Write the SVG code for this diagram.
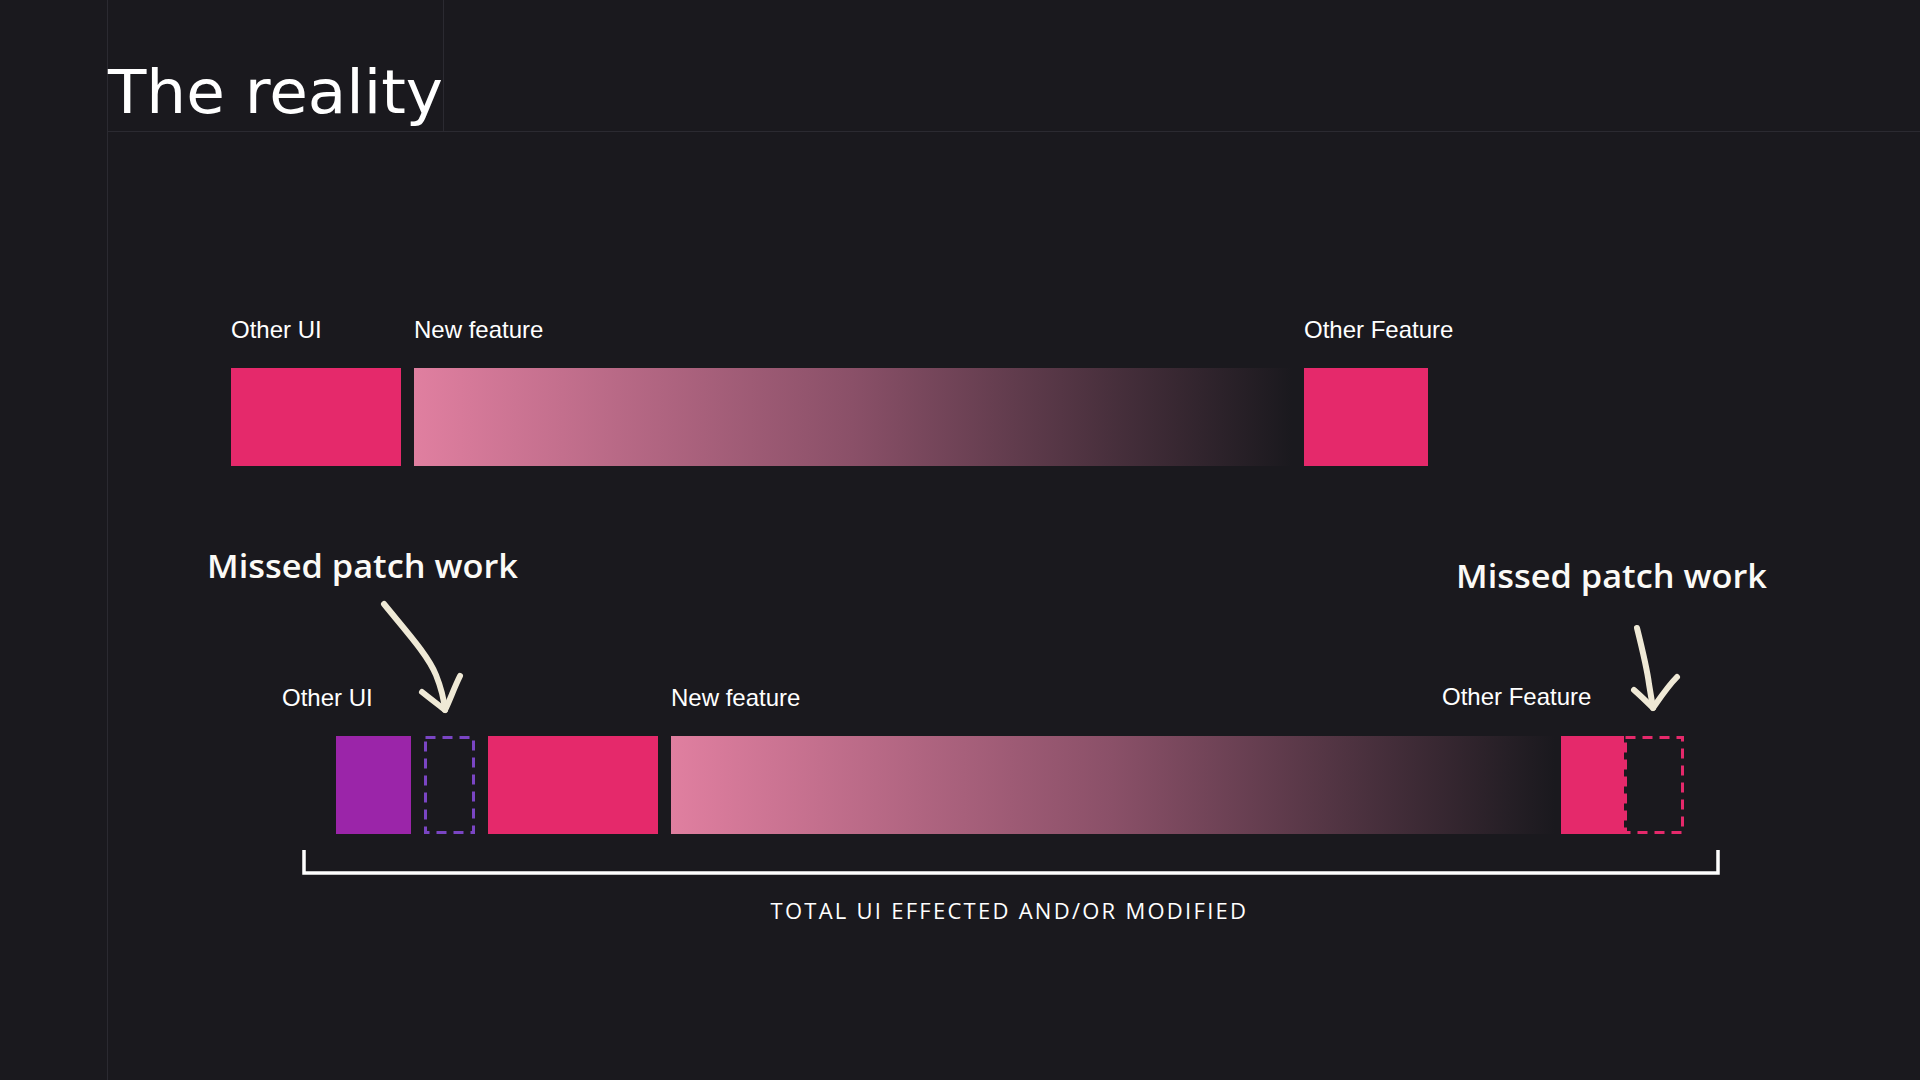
<svg xmlns="http://www.w3.org/2000/svg" width="1920" height="1080" viewBox="0 0 1920 1080">
  <style>
    .guide { stroke: #2b2a31; stroke-width: 1; fill: none; }
    .title { font-family: "DejaVu Sans", "Liberation Sans", sans-serif; font-size: 60px; fill: #ffffff; }
    .label { font-family: "Liberation Sans", Arial, sans-serif; font-size: 24px; fill: #ffffff; }
    .callout { font-family: "Open Sans", "Liberation Sans", sans-serif; font-size: 32px; font-weight: 600; fill: #fbfaf6; }
    .caption { font-family: "Open Sans", "Liberation Sans", sans-serif; font-size: 22px; font-weight: 500; fill: #ffffff; letter-spacing: 1.5px; }
    .pink { fill: #e5296b; }
    .purple { fill: #9b25a9; }
    .arrow { stroke: #efe9d6; stroke-width: 6; fill: none; stroke-linecap: round; stroke-linejoin: round; }
    .bracket { stroke: #ffffff; stroke-width: 3.5; fill: none; }
  </style>
  <defs>
    <linearGradient id="fade" x1="0" y1="0" x2="1" y2="0">
      <stop offset="0" stop-color="#e07fa0"/>
      <stop offset="0.5" stop-color="#8a5068"/>
      <stop offset="1" stop-color="#1a191e"/>
    </linearGradient>
  </defs>
  <rect width="1920" height="1080" fill="#1a191e"/>

  <g id="guides">
    <line class="guide" x1="107.5" y1="0" x2="107.5" y2="1080"/>
    <line class="guide" x1="443.5" y1="0" x2="443.5" y2="131"/>
    <line class="guide" x1="107.5" y1="131.5" x2="1920" y2="131.5"/>
  </g>

  <text id="title" class="title" x="108" y="113" textLength="335" lengthAdjust="spacingAndGlyphs">The reality</text>

  <g id="top-row">
    <g id="top-other-ui">
      <text class="label" x="231" y="338">Other UI</text>
      <rect class="pink" x="231" y="368" width="170" height="98"/>
    </g>
    <g id="top-new-feature">
      <text class="label" x="414" y="338">New feature</text>
      <rect x="414" y="368" width="878" height="98" fill="url(#fade)"/>
    </g>
    <g id="top-other-feature">
      <text class="label" x="1304" y="338">Other Feature</text>
      <rect class="pink" x="1304" y="368" width="124" height="98"/>
    </g>
  </g>

  <g id="bottom-row">
    <g id="bottom-other-ui">
      <text class="label" x="282" y="706">Other UI</text>
      <rect class="purple" x="336" y="736" width="75" height="98"/>
    </g>
    <g id="missed-left">
      <rect x="425.5" y="737.5" width="48" height="95" fill="none" stroke="#7a45c4" stroke-width="3" stroke-dasharray="10 7"/>
    </g>
    <g id="bottom-pink">
      <rect class="pink" x="488" y="736" width="170" height="98"/>
    </g>
    <g id="bottom-new-feature">
      <text class="label" x="671" y="706">New feature</text>
      <rect x="671" y="736" width="884" height="98" fill="url(#fade)"/>
    </g>
    <g id="bottom-other-feature">
      <text class="label" x="1442" y="705">Other Feature</text>
      <rect class="pink" x="1561" y="736" width="63" height="98"/>
    </g>
    <g id="missed-right">
      <rect x="1625.5" y="737.5" width="57" height="95" fill="none" stroke="#e5296b" stroke-width="3" stroke-dasharray="10 7"/>
    </g>
  </g>

  <g id="callout-left">
    <text class="callout" x="207" y="578" textLength="311" lengthAdjust="spacingAndGlyphs">Missed patch work</text>
  </g>
  <g id="callout-right">
    <text class="callout" x="1456" y="588" textLength="311" lengthAdjust="spacingAndGlyphs">Missed patch work</text>
  </g>

  <g id="connectors">
    <path class="arrow" d="M384 604 C 405 630, 428 655, 436 675 C 442 690, 444 700, 445 710"/>
    <path class="arrow" d="M422 692 C 432 700, 440 706, 445 710 C 450 700, 454 688, 460 676"/>
    <path class="arrow" d="M1637 628 C 1642 648, 1647 668, 1649 684 C 1651 696, 1652 702, 1653 708"/>
    <path class="arrow" d="M1634 690 C 1642 697, 1648 703, 1653 708 C 1660 698, 1668 686, 1677 677"/>
  </g>

  <g id="total-bracket">
    <path class="bracket" d="M304 850 V 873 H 1718 V 850"/>
    <text class="caption" x="1009" y="919" text-anchor="middle" textLength="477">TOTAL UI EFFECTED AND/OR MODIFIED</text>
  </g>
</svg>
